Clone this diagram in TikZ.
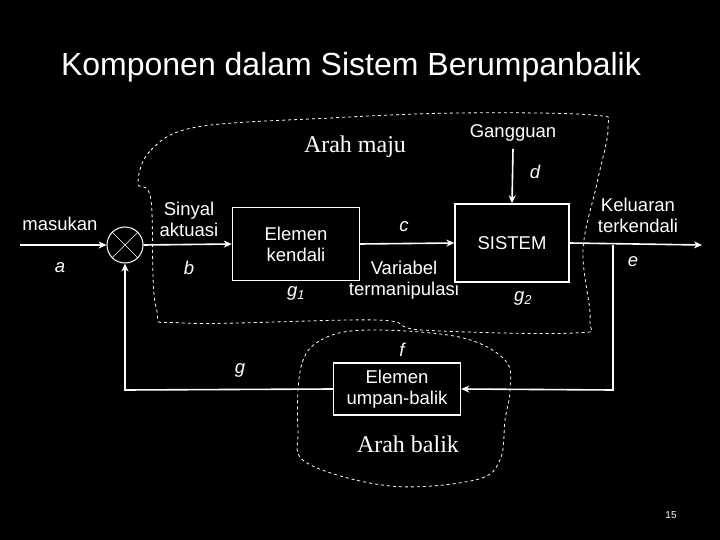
\documentclass[tikz,border=0pt]{standalone}
\usepackage{fontspec}
\setmainfont{Liberation Sans}
\newfontfamily\serifA{Liberation Serif}
\usetikzlibrary{arrows.meta}
\begin{document}
\begin{tikzpicture}[x=1pt,y=-1pt,
  blk/.style={draw=white,line width=1.4pt,align=center,font=\fontsize{18.5}{21}\selectfont,text=white,inner sep=0pt},
  lbl/.style={text=white,font=\fontsize{18.5}{21}\selectfont,align=center},
  ilbl/.style={text=white,font=\fontsize{18.5}{21}\selectfont\itshape},
  sig/.style={draw=white,line width=1.6pt,-{Stealth[length=8pt,width=7pt]}},
  blob/.style={draw=white,dashed,line width=0.8pt}]
\fill[black] (0,0) rectangle (720,540);
\useasboundingbox (0,0) rectangle (720,540);
\node[text=white,font=\fontsize{32}{36}\selectfont] (title) at (351,67) {Komponen dalam Sistem Berumpanbalik};
% blobs
\draw[blob] plot[smooth cycle,tension=0.6] coordinates {(138,183) (151,150) (197,127) (330,118) (459,113) (592,115) (608,127) (597,183) (583,250) (590,320) (574,333) (422,330) (376,320) (184,323) (156,307) (151,200)};
\draw[blob] plot[smooth cycle,tension=0.6] coordinates {(301,367) (321,340) (367,330) (459,337) (505,360) (510,390) (505,420) (500,460) (475,480) (390,486) (307,463) (298,430)};
% nodes
\node[draw=white,line width=1pt,circle,minimum size=36pt,inner sep=0pt] (sum) at (125,245) {};
\draw[white,line width=0.6pt] (sum.north west) -- (sum.south east) (sum.north east) -- (sum.south west);
\node[blk,minimum width=127pt,minimum height=73pt] (ctl) at (296,244) {Elemen\\kendali};
\node[blk,minimum width=114pt,minimum height=78pt] (sys) at (512,243) {SISTEM};
\node[blk,minimum width=127pt,minimum height=52pt] (fb) at (397,389) {Elemen\\umpan-balik};
\coordinate (in) at (20,245);
\coordinate (out) at (702,245);
\coordinate (tap) at (613,245);
\coordinate (tapd) at (613,390);
\coordinate (lftd) at (125,390);
\node[lbl] (gang) at (513,133) {Gangguan};
% connectors
\draw[sig] (in) -- (sum.west);
\draw[sig] (sum.east) -- (ctl.west);
\draw[sig] (ctl.east) -- (sys.west);
\draw[sig] (sys.east) -- (out);
\draw[sig] (gang.south) ++(0,4) -- (sys.north);
\draw[sig] (tap) -- (tapd) -- (fb.east);
\draw[sig] (fb.west) -- (lftd) -- (sum.south);
% labels
\node[lbl] (mas) at (60,224) {masukan};
\node[ilbl] (la) at (60,268) {a};
\node[lbl] (sa) at (189,219) {Sinyal\\aktuasi};
\node[ilbl] (lb) at (189,268) {b};
\node[ilbl] (lc) at (404,227) {c};
\node[ilbl] (ld) at (535,172) {d};
\node[lbl] (ke) at (638,215) {Keluaran\\terkendali};
\node[ilbl] (le) at (633,262) {e};
\node[lbl] (vt) at (404,280) {Variabel\\termanipulasi};
\node[ilbl] (g1) at (296,293) {g$_{\mathit 1}$};
\node[ilbl] (g2) at (523,298) {g$_{\mathit 2}$};
\node[ilbl] (lf) at (402,350) {f};
\node[ilbl] (lg) at (240,370) {g};
\node[text=white,font=\serifA\fontsize{24}{26}\selectfont] (am) at (355,147) {Arah maju};
\node[text=white,font=\serifA\fontsize{24}{26}\selectfont] (ab) at (408,444) {Arah balik};
\node[text=white,font=\fontsize{10}{11}\selectfont] (pg) at (671,515) {15};
\end{tikzpicture}
\end{document}
